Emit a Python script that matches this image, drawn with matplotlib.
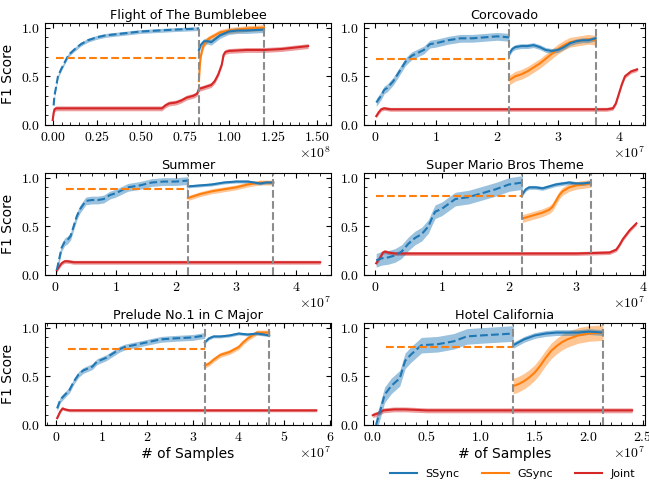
import numpy as np
import matplotlib
matplotlib.use('Agg')
import matplotlib.pyplot as plt
from matplotlib.ticker import FuncFormatter, AutoMinorLocator, MultipleLocator
from matplotlib.lines import Line2D

plt.rcParams['mathtext.fontset'] = 'cm'
plt.rcParams['axes.formatter.use_mathtext'] = True
plt.rcParams['font.family'] = 'DejaVu Sans'

C_SS = '#1f77b4'
C_GS = '#ff7f0e'
C_J = '#d62728'

titles = ['Flight of The Bumblebee', 'Corcovado', 'Summer',
          'Super Mario Bros Theme', 'Prelude No.1 in C Major', 'Hotel California']
scales = [1e8, 1e7, 1e7, 1e7, 1e7, 1e7]
xlims = [(-0.045, 1.58), (-0.18, 4.43), (-0.18, 4.58), (-0.16, 4.03), (-0.24, 6.02), (-0.08, 2.52)]
xsteps = [0.25, 1, 1, 1, 1, 0.5]
# phase boundaries (vertical dashed lines)
bounds = [(0.83, 1.2), (2.2, 3.62), (2.2, 3.62), (2.2, 3.22), (3.26, 4.67), (1.3, 2.13)]

# ---- Flight of The Bumblebee (x in 1e8) ----
bee_ss1_x = [0.005, 0.01, 0.02, 0.03, 0.05, 0.07, 0.09, 0.12, 0.16, 0.2, 0.25, 0.3, 0.4, 0.5, 0.6, 0.7, 0.83]
bee_ss1_y = [0.2, 0.3, 0.4, 0.5, 0.58, 0.65, 0.72, 0.77, 0.83, 0.87, 0.9, 0.92, 0.94, 0.96, 0.97, 0.98, 0.99]
bee_gs1 = (0.02, 0.69)
bee_ss2_x = [0.83, 0.84, 0.86, 0.88, 0.9, 0.95, 1.0, 1.05, 1.1, 1.2]
bee_ss2_y = [0.77, 0.82, 0.86, 0.86, 0.85, 0.92, 0.96, 0.97, 0.97, 0.98]
bee_gs2_x = [0.83, 0.835, 0.84, 0.85, 0.86, 0.88, 0.9, 0.95, 1.0, 1.1, 1.2]
bee_gs2_y = [0.45, 0.6, 0.7, 0.78, 0.83, 0.88, 0.9, 0.95, 0.97, 0.99, 1.0]
bee_j_x = [0.0, 0.005, 0.01, 0.02, 0.1, 0.3, 0.5, 0.62, 0.64, 0.66, 0.7, 0.73, 0.76, 0.8, 0.82, 0.83, 0.85,
           0.9, 0.92, 0.94, 0.96, 0.97, 0.98, 1.0, 1.1, 1.2, 1.3, 1.4, 1.45]
bee_j_y = [0.05, 0.12, 0.16, 0.17, 0.17, 0.17, 0.17, 0.17, 0.2, 0.22, 0.23, 0.25, 0.28, 0.3, 0.32, 0.37, 0.38,
           0.41, 0.45, 0.52, 0.62, 0.72, 0.75, 0.76, 0.77, 0.77, 0.78, 0.8, 0.81]

# ---- Corcovado (x in 1e7) ----
cor_ss1_x = [0.02, 0.1, 0.15, 0.2, 0.3, 0.4, 0.5, 0.6, 0.7, 0.8, 0.9, 1.0, 1.2, 1.4, 1.6, 1.8, 2.0, 2.2]
cor_ss1_y = [0.23, 0.3, 0.36, 0.38, 0.45, 0.55, 0.65, 0.71, 0.74, 0.77, 0.83, 0.84, 0.87, 0.89, 0.89, 0.9, 0.91, 0.9]
cor_gs1 = (0.02, 0.675)
cor_ss2_x = [2.2, 2.25, 2.3, 2.4, 2.5, 2.6, 2.7, 2.8, 2.9, 3.0, 3.1, 3.2, 3.3, 3.4, 3.5, 3.62]
cor_ss2_y = [0.73, 0.78, 0.8, 0.81, 0.81, 0.82, 0.8, 0.77, 0.76, 0.77, 0.8, 0.84, 0.86, 0.87, 0.87, 0.89]
cor_gs2_x = [2.2, 2.3, 2.4, 2.5, 2.6, 2.7, 2.8, 2.9, 3.0, 3.1, 3.2, 3.3, 3.4, 3.5, 3.62]
cor_gs2_y = [0.46, 0.5, 0.52, 0.55, 0.59, 0.63, 0.68, 0.73, 0.78, 0.82, 0.85, 0.86, 0.87, 0.88, 0.87]
cor_j_x = [0.02, 0.06, 0.1, 0.15, 0.25, 0.5, 1.0, 2.0, 3.0, 3.8, 3.9, 3.95, 4.0, 4.05, 4.1, 4.2, 4.3]
cor_j_y = [0.09, 0.13, 0.16, 0.17, 0.16, 0.16, 0.16, 0.16, 0.16, 0.16, 0.17, 0.22, 0.32, 0.42, 0.5, 0.55, 0.57]

# ---- Summer (x in 1e7) ----
sum_ss1_x = [0.02, 0.1, 0.15, 0.2, 0.25, 0.3, 0.35, 0.4, 0.5, 0.6, 0.7, 0.8, 0.9, 1.0, 1.1, 1.2, 1.4, 1.6, 1.8, 2.0, 2.2]
sum_ss1_y = [0.05, 0.28, 0.34, 0.36, 0.4, 0.5, 0.6, 0.67, 0.76, 0.77, 0.77, 0.78, 0.82, 0.84, 0.87, 0.9, 0.92, 0.95,
             0.96, 0.96, 0.97]
sum_gs1 = (0.18, 0.88)
sum_ss2_x = [2.2, 2.4, 2.6, 2.8, 3.0, 3.2, 3.3, 3.4, 3.5, 3.62]
sum_ss2_y = [0.91, 0.92, 0.93, 0.95, 0.96, 0.96, 0.95, 0.94, 0.95, 0.95]
sum_gs2_x = [2.2, 2.3, 2.4, 2.6, 2.8, 3.0, 3.2, 3.4, 3.62]
sum_gs2_y = [0.79, 0.81, 0.83, 0.86, 0.88, 0.9, 0.93, 0.95, 0.95]
sum_j_x = [0.02, 0.1, 0.15, 0.2, 0.3, 1.0, 2.0, 3.0, 4.0, 4.4]
sum_j_y = [0.05, 0.12, 0.14, 0.14, 0.13, 0.13, 0.13, 0.13, 0.13, 0.13]

# ---- Super Mario Bros Theme (x in 1e7) ----
mar_ss1_x = [0.02, 0.1, 0.2, 0.3, 0.4, 0.5, 0.6, 0.7, 0.8, 0.85, 0.9, 1.0, 1.1, 1.2, 1.4, 1.6, 1.8, 2.0, 2.2]
mar_ss1_y = [0.15, 0.17, 0.18, 0.2, 0.24, 0.32, 0.38, 0.42, 0.5, 0.58, 0.65, 0.68, 0.73, 0.78, 0.8, 0.84, 0.88,
             0.93, 0.95]
mar_gs1 = (0.02, 0.81)
mar_ss2_x = [2.2, 2.25, 2.3, 2.4, 2.5, 2.6, 2.7, 2.8, 2.9, 3.0, 3.1, 3.22]
mar_ss2_y = [0.83, 0.88, 0.9, 0.9, 0.89, 0.91, 0.93, 0.94, 0.95, 0.94, 0.94, 0.95]
mar_gs2_x = [2.2, 2.3, 2.4, 2.5, 2.6, 2.65, 2.7, 2.75, 2.8, 2.9, 3.0, 3.1, 3.22]
mar_gs2_y = [0.58, 0.6, 0.62, 0.64, 0.67, 0.7, 0.76, 0.82, 0.86, 0.9, 0.92, 0.93, 0.94]
mar_j_x = [0.02, 0.08, 0.12, 0.15, 0.2, 0.3, 0.5, 1.0, 2.0, 3.0, 3.5, 3.6, 3.65, 3.7, 3.8, 3.9]
mar_j_y = [0.12, 0.18, 0.23, 0.24, 0.23, 0.22, 0.22, 0.22, 0.22, 0.22, 0.23, 0.26, 0.31, 0.37, 0.46, 0.53]

# ---- Prelude No.1 in C Major (x in 1e7) ----
pre_ss1_x = [0.03, 0.1, 0.2, 0.3, 0.4, 0.5, 0.6, 0.7, 0.8, 0.9, 1.0, 1.1, 1.2, 1.3, 1.4, 1.5, 1.7, 2.0, 2.3, 2.6,
             3.0, 3.26]
pre_ss1_y = [0.17, 0.26, 0.31, 0.36, 0.45, 0.52, 0.56, 0.58, 0.6, 0.65, 0.67, 0.69, 0.72, 0.75, 0.78, 0.8, 0.82,
             0.85, 0.88, 0.89, 0.9, 0.92]
pre_gs1 = (0.27, 0.78)
pre_ss2_x = [3.26, 3.35, 3.45, 3.6, 3.8, 4.0, 4.2, 4.4, 4.55, 4.67]
pre_ss2_y = [0.85, 0.89, 0.91, 0.91, 0.92, 0.94, 0.93, 0.94, 0.93, 0.92]
pre_gs2_x = [3.26, 3.35, 3.45, 3.6, 3.8, 4.0, 4.1, 4.2, 4.3, 4.4, 4.55, 4.67]
pre_gs2_y = [0.61, 0.63, 0.67, 0.72, 0.75, 0.8, 0.85, 0.89, 0.92, 0.95, 0.95, 0.95]
pre_j_x = [0.03, 0.1, 0.15, 0.2, 0.3, 1.0, 2.0, 3.0, 4.0, 5.0, 5.7]
pre_j_y = [0.07, 0.14, 0.17, 0.16, 0.15, 0.15, 0.15, 0.15, 0.15, 0.15, 0.15]

# ---- Hotel California (x in 1e7) ----
hot_ss1_x = [0.03, 0.07, 0.11, 0.17, 0.25, 0.3, 0.35, 0.39, 0.45, 0.6, 0.75, 0.87, 1.0, 1.15, 1.3]
hot_ss1_y = [0.0, 0.15, 0.31, 0.4, 0.48, 0.66, 0.72, 0.76, 0.82, 0.83, 0.86, 0.91, 0.92, 0.93, 0.94]
hot_gs1 = (0.12, 0.8)
hot_ss2_x = [1.3, 1.35, 1.4, 1.5, 1.6, 1.7, 1.8, 1.9, 2.0, 2.13]
hot_ss2_y = [0.82, 0.85, 0.88, 0.92, 0.94, 0.95, 0.95, 0.95, 0.96, 0.95]
hot_gs2_x = [1.3, 1.35, 1.4, 1.45, 1.5, 1.55, 1.6, 1.65, 1.7, 1.75, 1.8, 1.9, 2.0, 2.13]
hot_gs2_y = [0.4, 0.42, 0.45, 0.49, 0.54, 0.61, 0.69, 0.76, 0.81, 0.85, 0.88, 0.92, 0.94, 0.95]
hot_j_x = [0.0, 0.05, 0.1, 0.2, 0.3, 0.5, 1.0, 1.5, 2.0, 2.4]
hot_j_y = [0.1, 0.12, 0.15, 0.16, 0.16, 0.15, 0.15, 0.15, 0.15, 0.15]

# band half-widths (ss1, ss2, gs2, joint)
bands = [(0.02, 0.03, 0.03, 0.025), (0.04, 0.025, 0.05, 0.02), (0.04, 0.015, 0.025, 0.02),
         (0.07, 0.02, 0.04, 0.02), (0.03, 0.015, 0.025, 0.015), (0.08, 0.03, 0.08, 0.025)]

panels = [
    (bee_ss1_x, bee_ss1_y, bee_gs1, bee_ss2_x, bee_ss2_y, bee_gs2_x, bee_gs2_y, bee_j_x, bee_j_y),
    (cor_ss1_x, cor_ss1_y, cor_gs1, cor_ss2_x, cor_ss2_y, cor_gs2_x, cor_gs2_y, cor_j_x, cor_j_y),
    (sum_ss1_x, sum_ss1_y, sum_gs1, sum_ss2_x, sum_ss2_y, sum_gs2_x, sum_gs2_y, sum_j_x, sum_j_y),
    (mar_ss1_x, mar_ss1_y, mar_gs1, mar_ss2_x, mar_ss2_y, mar_gs2_x, mar_gs2_y, mar_j_x, mar_j_y),
    (pre_ss1_x, pre_ss1_y, pre_gs1, pre_ss2_x, pre_ss2_y, pre_gs2_x, pre_gs2_y, pre_j_x, pre_j_y),
    (hot_ss1_x, hot_ss1_y, hot_gs1, hot_ss2_x, hot_ss2_y, hot_gs2_x, hot_gs2_y, hot_j_x, hot_j_y),
]


def band_line(ax, x, y, w, color, ls='-'):
    x = np.array(x)
    y = np.array(y)
    ax.fill_between(x, y - w, y + w, color=color, alpha=0.45, lw=0)
    ax.plot(x, y, color=color, ls=ls, lw=1.5)


fig = plt.figure(figsize=(6.49, 4.84), dpi=100)
lefts = [0.069, 0.561]
widths = [0.441, 0.433]
bottoms = [0.742, 0.432, 0.122]
H = 0.211

for i in range(6):
    r, c = i // 2, i % 2
    ax = fig.add_axes([lefts[c], bottoms[r], widths[c], H])
    ss1x, ss1y, gs1, ss2x, ss2y, gs2x, gs2y, jx, jy = panels[i]
    sc = scales[i]
    b0, b1 = bounds[i]
    w = bands[i]

    band_line(ax, np.array(jx) * sc, jy, w[3], C_J)
    band_line(ax, np.array(ss1x) * sc, ss1y, w[0], C_SS, ls='--')
    ax.plot([gs1[0] * sc, b0 * sc], [gs1[1], gs1[1]], color=C_GS, ls='--', lw=1.5)
    band_line(ax, np.array(gs2x) * sc, gs2y, w[2], C_GS)
    band_line(ax, np.array(ss2x) * sc, ss2y, w[1], C_SS)
    ax.axvline(b0 * sc, color='0.55', ls='--', lw=1.5)
    ax.axvline(b1 * sc, color='0.55', ls='--', lw=1.5)

    ax.set_xlim(xlims[i][0] * sc, xlims[i][1] * sc)
    ax.set_ylim(0, 1.05)
    ax.xaxis.set_major_locator(MultipleLocator(xsteps[i] * sc))
    ax.xaxis.set_minor_locator(AutoMinorLocator(5))
    ax.yaxis.set_major_locator(MultipleLocator(0.5))
    ax.yaxis.set_minor_locator(MultipleLocator(0.1))
    fmt = '%.2f' if xsteps[i] == 0.25 else ('%.1f' if xsteps[i] == 0.5 else '%d')
    ax.xaxis.set_major_formatter(FuncFormatter(lambda v, p, s=sc, f=fmt: '$' + (f % round(v / s, 2)) + '$'))
    ax.yaxis.set_major_formatter(FuncFormatter(lambda v, p: '$%.1f$' % v))
    ax.tick_params(which='both', direction='in', top=True, right=True, labelsize=10)
    ax.tick_params(which='major', length=3.5, width=0.8)
    ax.tick_params(which='minor', length=2, width=0.6)
    ax.text(1.0, -0.2, r'$\times10^{%d}$' % int(round(np.log10(sc))), transform=ax.transAxes,
            ha='right', va='top', fontsize=10)
    ax.set_title(titles[i], fontsize=9.2, pad=3)
    if c == 0:
        ax.set_ylabel('F1 Score', fontsize=10)
    if r == 2:
        ax.set_xlabel('# of Samples', fontsize=10, labelpad=2)

handles = [Line2D([], [], color=C_SS, lw=1.5), Line2D([], [], color=C_GS, lw=1.5),
           Line2D([], [], color=C_J, lw=1.5)]
fig.legend(handles, ['SSync', 'GSync', 'Joint'], loc='lower center', bbox_to_anchor=(0.79, -0.01),
           ncol=3, frameon=False, fontsize=8, handlelength=2.4, handletextpad=0.8, columnspacing=2.0)

fig.savefig('out.png', dpi=100)
